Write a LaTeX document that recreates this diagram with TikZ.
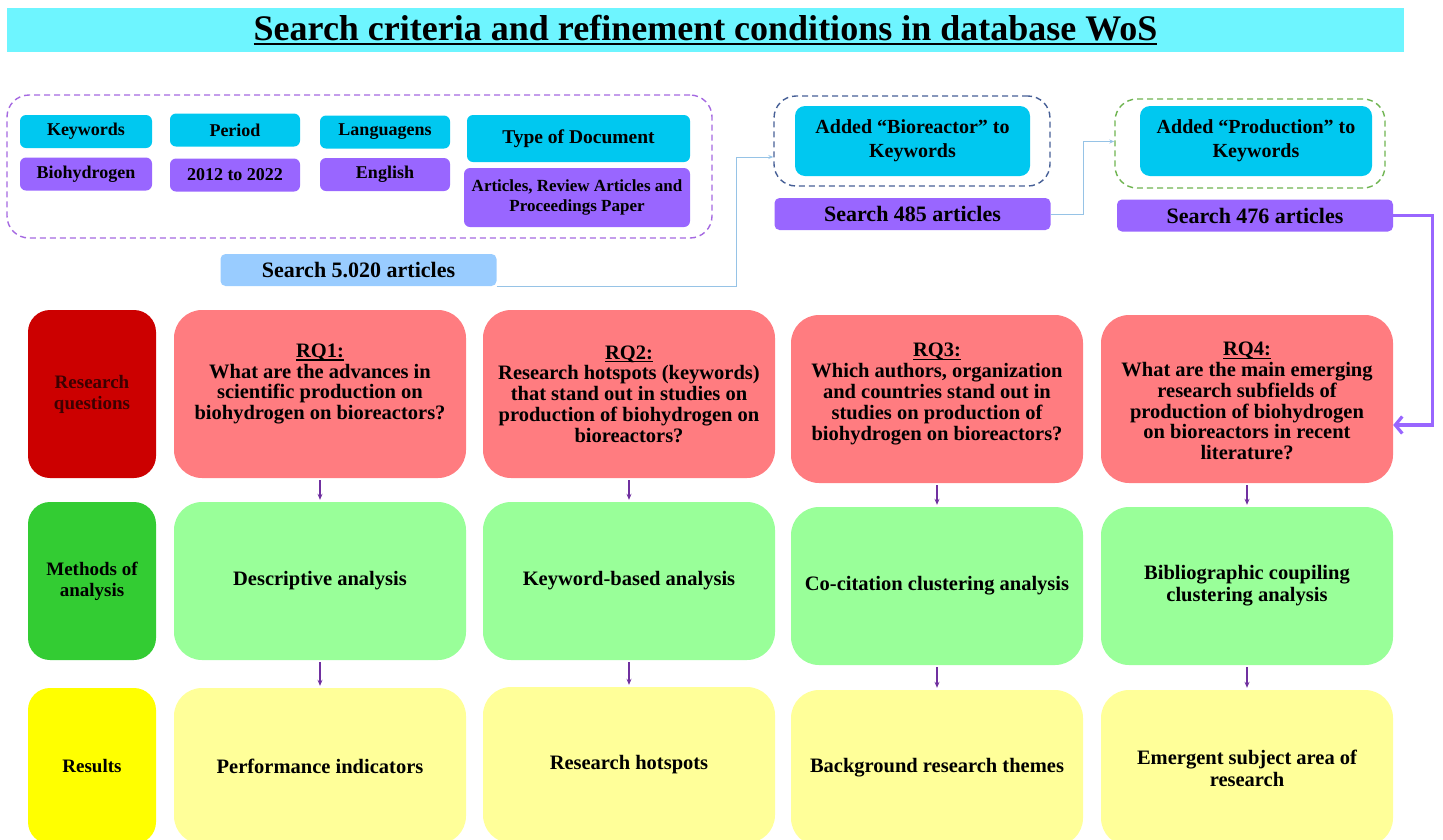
\documentclass[tikz,border=0pt]{standalone}
\usepackage{fontspec}
\setmainfont{Liberation Serif}
\usetikzlibrary{arrows.meta}

\definecolor{titlecyan}{RGB}{110,245,255}
\definecolor{keycyan}{RGB}{0,200,240}
\definecolor{keypurple}{RGB}{153,102,255}
\definecolor{searchblue}{RGB}{153,204,255}
\definecolor{dashpurple}{RGB}{165,105,225}
\definecolor{dashblue}{RGB}{70,95,150}
\definecolor{dashgreen}{RGB}{110,180,80}
\definecolor{linkblue}{RGB}{150,195,230}
\definecolor{rqdark}{RGB}{204,0,0}
\definecolor{rqfill}{RGB}{255,124,128}
\definecolor{madark}{RGB}{51,204,51}
\definecolor{mafill}{RGB}{153,255,153}
\definecolor{resdark}{RGB}{255,255,0}
\definecolor{resfill}{RGB}{255,255,153}
\definecolor{flowpurple}{RGB}{112,48,160}
\definecolor{maroontext}{RGB}{60,0,0}

% underline with given thickness (#1) and depth (#2)
\newcommand\thickul[3]{\setbox0\hbox{#3}\leavevmode\rlap{\rule[-#2]{\wd0}{#1}}\box0}
\newcommand\rqhead[1]{\thickul{1.3pt}{3.2pt}{#1}}

\begin{document}
\begin{tikzpicture}[
    x=1pt, y=-1pt,
    every node/.style={align=center, inner sep=2pt},
    tag/.style={fill=keycyan, rounded corners=6pt, minimum width=132pt, minimum height=33pt,
      font=\bfseries\fontsize{18}{20}\selectfont},
    tagval/.style={tag, fill=keypurple},
    search/.style={rounded corners=5pt, minimum width=276pt, minimum height=32pt,
      font=\bfseries\fontsize{22}{24}\selectfont},
    dashframe/.style={draw, line width=1.4pt, rounded corners=22pt, dash pattern=on 6pt off 4pt},
    rowlabel/.style={rounded corners=22pt, minimum width=128pt,
      font=\bfseries\fontsize{19}{21}\selectfont},
    cell/.style={rounded corners=28pt, minimum width=292pt,
      font=\bfseries\fontsize{20.5}{22}\selectfont},
    question/.style={cell, fill=rqfill, minimum height=168pt},
    qtext/.style={font=\bfseries\fontsize{20.5}{20.8}\selectfont},
    method/.style={cell, fill=mafill, minimum height=158pt},
    result/.style={cell, fill=resfill, minimum height=156pt},
    flow/.style={-{Stealth[length=6pt,width=5pt]}, line width=1.3pt, flowpurple,
      shorten <=2pt, shorten >=2pt},
    link/.style={-{Stealth[length=5pt,width=4pt]}, line width=0.9pt, linkblue},
    feed/.style={-{Straight Barb[length=7pt,width=17pt]}, line width=3.2pt, keypurple}
  ]
  \useasboundingbox (0,0) rectangle (1443,839);

  \node[fill=titlecyan, minimum width=1397pt, minimum height=44pt,
    font=\bfseries\fontsize{36}{40}\selectfont] (title) at (705.5,30)
    {\thickul{2.5pt}{5pt}{Search criteria and refinement conditions in database WoS}};

  % search criteria
  \node[dashframe, draw=dashpurple, minimum width=705pt, minimum height=143pt] (criteria) at (359.5,166.5) {};
  \node[tag] (keywords) at (86,131.5) {Keywords};
  \node[tagval] (biohydrogen) at (86,174) {Biohydrogen};
  \node[tag, minimum width=130pt] (period) at (235,130) {Period};
  \node[tagval, minimum width=130pt] (years) at (235,175) {2012 to 2022};
  \node[tag, minimum width=130pt] (languages) at (385,132) {Languagens};
  \node[tagval, minimum width=130pt] (english) at (385,174.5) {English};
  \node[tag, minimum width=223pt, minimum height=47pt, font=\bfseries\fontsize{19.5}{21}\selectfont]
    (doctype) at (578.5,138.5) {Type of Document};
  \node[tagval, minimum width=226pt, minimum height=59pt, font=\bfseries\fontsize{17}{20}\selectfont]
    (articles) at (577,197.5) {Articles, Review Articles and\\ Proceedings Paper};
  \node[search, fill=searchblue] (s5020) at (358.5,270) {Search 5.020 articles};

  % refinements
  \node[dashframe, draw=dashblue, minimum width=276pt, minimum height=90pt] (biofr) at (912,141) {};
  \node[tag, minimum width=235pt, minimum height=70pt, rounded corners=10pt,
    font=\bfseries\fontsize{20}{24}\selectfont] (addbio) at (912.5,141) {Added “Bioreactor” to\\ Keywords};
  \node[search, fill=keypurple] (s485) at (912.5,214) {Search 485 articles};
  \node[dashframe, draw=dashgreen, minimum width=270pt, minimum height=89pt] (prodfr) at (1250,143.5) {};
  \node[tag, minimum width=232pt, minimum height=70pt, rounded corners=10pt,
    font=\bfseries\fontsize{20}{24}\selectfont] (addprod) at (1256,141) {Added “Production” to\\ Keywords};
  \node[search, fill=keypurple] (s476) at (1255,215.5) {Search 476 articles};

  \draw[link] (s5020.south east) -- ++(240,0) |- ([yshift=-16pt]biofr.west);
  \draw[link] (s485.east) -- ++(33,0) |- ([yshift=2pt]prodfr.west);

  % row labels
  \node[rowlabel, fill=rqdark, text=maroontext, minimum height=168pt] (lquestions) at (92,394) {Research\\ questions};
  \node[rowlabel, fill=madark, minimum height=158pt] (lmethods) at (92,581) {Methods of\\ analysis};
  \node[rowlabel, fill=resdark, minimum height=156pt] (lresults) at (92,766) {Results};

  % research questions
  \node[question] (rq1) at (320,394) {};
  \node[question] (rq2) at (629,394) {};
  \node[question] (rq3) at (937,399) {};
  \node[question] (rq4) at (1247,399) {};
  \node[qtext] (rq1t) at ([yshift=10pt]rq1.center) {\rqhead{RQ1:}\\ What are the advances in\\ scientific production on\\ biohydrogen on bioreactors?};
  \node[qtext] (rq2t) at (rq2.center) {\rqhead{RQ2:}\\ Research hotspots (keywords)\\ that stand out in studies on\\ production of biohydrogen on\\ bioreactors?};
  \node[qtext] (rq3t) at ([yshift=5pt]rq3.center) {\rqhead{RQ3:}\\ Which authors, organization\\ and countries stand out in\\ studies on production of\\ biohydrogen on bioreactors?};
  \node[qtext] (rq4t) at ([yshift=-2pt]rq4.center) {\rqhead{RQ4:}\\ What are the main emerging\\ research subfields of\\ production of biohydrogen\\ on bioreactors in recent\\ literature?};

  % methods
  \node[method] (m1) at (320,581) {Descriptive analysis};
  \node[method] (m2) at (629,581) {Keyword-based analysis};
  \node[method] (m3) at (937,586) {Co-citation clustering analysis};
  \node[method] (m4) at (1247,586) {Bibliographic coupiling\\ clustering analysis};

  % results
  \node[result] (r1) at (320,766) {Performance indicators};
  \node[result] (r2) at (629,765) {Research hotspots};
  \node[result] (r3) at (937,768) {Background research themes};
  \node[result] (r4) at (1247,768) {Emergent subject area of\\ research};

  \draw[flow] (rq1) -- (m1);
  \draw[flow] (rq2) -- (m2);
  \draw[flow] (rq3) -- (m3);
  \draw[flow] (rq4) -- (m4);
  \draw[flow] (m1) -- (r1);
  \draw[flow] (m2) -- (r2);
  \draw[flow] (m3) -- (r3);
  \draw[flow] (m4) -- (r4);

  \draw[feed] (s476.east) -- ++(39,0) |- ([yshift=-26pt]rq4.east);
\end{tikzpicture}
\end{document}
